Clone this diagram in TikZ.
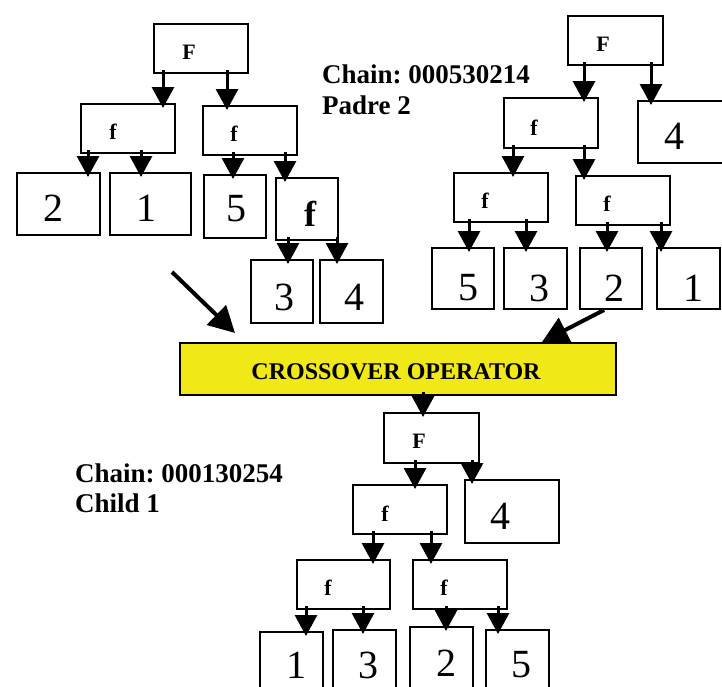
\documentclass[tikz,border=0pt]{standalone}
\usepackage{fontspec}
\setmainfont{Liberation Serif}
\frenchspacing
\usetikzlibrary{arrows.meta}
\definecolor{opyellow}{HTML}{F0E817}
\tikzset{
  box/.style={draw, line width=2pt, inner sep=0pt, anchor=north west},
  fun/.style={font=\bfseries\fontsize{22}{24}\selectfont},
  bigfun/.style={font=\bfseries\fontsize{36}{38}\selectfont},
  digit/.style={font=\fontsize{40}{44}\selectfont},
  note/.style={font=\bfseries\fontsize{27}{30}\selectfont, inner sep=0pt, anchor=base west},
  arr/.style={line width=3pt, -{Triangle[width=22pt,length=21pt]}, shorten >=-5pt},
  darr/.style={line width=4pt, -{Triangle[width=27pt,length=26pt]}},
}
\newcommand\tbox[8]{% name, x, y, w, h, style, dx, dy
  \node[box, minimum width=#4pt, minimum height=#5pt,
        label={[#6, inner sep=0pt, xshift=#7pt, yshift=#8pt]center:\boxtext}] (#1) at (#2,#3) {};}
\begin{document}
\begin{tikzpicture}[x=1pt,y=-1pt]
\useasboundingbox (0,0) rectangle (722,686);
% ---------- left tree ----------
\def\boxtext{F}\tbox{LF}{153}{23}{94}{49}{fun}{-12}{-3.5}
\def\boxtext{f}\tbox{Lfa}{80}{103}{94}{49}{fun}{-15}{-3.5}
\def\boxtext{f}\tbox{Lfb}{202}{105}{94}{49}{fun}{-16}{-3.5}
\def\boxtext{2}\tbox{Ltwo}{16}{172}{83}{62}{digit}{-5.5}{-4}
\def\boxtext{1}\tbox{Lone}{109}{172}{81}{62}{digit}{-4.5}{-4}
\def\boxtext{5}\tbox{Lfive}{203}{174}{62}{63}{digit}{1}{-2.5}
\def\boxtext{f}\tbox{Lfc}{275}{177}{62}{62}{bigfun}{3}{-4.5}
\def\boxtext{3}\tbox{Lthree}{250}{259}{62}{63}{digit}{2}{-6}
\def\boxtext{4}\tbox{Lfour}{319}{259}{63}{63}{digit}{2.5}{-5.5}
% ---------- right tree ----------
\def\boxtext{F}\tbox{RF}{567}{15}{95}{49}{fun}{-12.5}{-3.5}
\def\boxtext{f}\tbox{Rfa}{503}{97}{94}{50}{fun}{-17}{-5}
\def\boxtext{4}\tbox{Rfour}{637}{100}{90}{62}{digit}{-9}{-4}
\def\boxtext{f}\tbox{Rfb}{453}{172}{94}{49}{fun}{-16}{-3.5}
\def\boxtext{f}\tbox{Rfc}{575}{175}{94}{49}{fun}{-16}{-3.5}
\def\boxtext{5}\tbox{Rfive}{431}{247}{62}{61}{digit}{5}{-9.5}
\def\boxtext{3}\tbox{Rthree}{503}{247}{63}{61}{digit}{3.5}{-9.5}
\def\boxtext{2}\tbox{Rtwo}{579}{247}{62}{61}{digit}{3}{-9.5}
\def\boxtext{1}\tbox{Rone}{656}{247}{63}{61}{digit}{4.5}{-9.5}
% ---------- operator ----------
\node[box, fill=opyellow, minimum width=436pt, minimum height=52pt] (X) at (179,342) {};
\node[font=\bfseries\fontsize{24}{26}\selectfont, inner sep=0pt] (Xt) at ([xshift=-2pt,yshift=-2.5pt]X.center) {CROSSOVER OPERATOR};
% ---------- child tree ----------
\def\boxtext{F}\tbox{CF}{383}{412}{95}{50}{fun}{-12.5}{-3}
\def\boxtext{f}\tbox{Cfa}{352}{484}{94}{49}{fun}{-15}{-4.5}
\def\boxtext{4}\tbox{Cfour}{464}{479}{94}{63}{digit}{-12}{-4.5}
\def\boxtext{f}\tbox{Cfb}{296}{559}{93}{49}{fun}{-15.5}{-3.5}
\def\boxtext{f}\tbox{Cfc}{412}{559}{94}{49}{fun}{-16}{-3.5}
\def\boxtext{1}\tbox{Cone}{259}{631}{63}{70}{digit}{4.5}{2}
\def\boxtext{3}\tbox{Cthree}{332}{629}{63}{72}{digit}{3.5}{1}
\def\boxtext{2}\tbox{Ctwo}{409}{626}{63}{75}{digit}{4.5}{1}
\def\boxtext{5}\tbox{Cfive}{485}{629}{63}{72}{digit}{3.5}{1}
% ---------- notes ----------
\node[note] (Pa) at (322,83) {Chain: 000530214};
\node[note] (Pb) at (322,114) {Padre 2};
\node[note] (Ca) at (75,482) {Chain: 000130254};
\node[note] (Cb) at (75,512) {Child 1};
% ---------- arrows ----------
\newcommand\tarr[3]{\draw[arr] ([xshift=#2pt,yshift=4pt]#1.south west) -- ([xshift=#2pt]#1.south west |- #3.north);}
\tarr{LF}{10}{Lfa}
\tarr{LF}{74}{Lfb}
\tarr{Lfa}{8}{Ltwo}
\tarr{Lfa}{61}{Lone}
\tarr{Lfb}{31}{Lfive}
\tarr{Lfb}{83}{Lfc}
\tarr{Lfc}{13}{Lthree}
\tarr{Lfc}{62}{Lfour}
\tarr{RF}{17}{Rfa}
\tarr{RF}{84}{Rfour}
\tarr{Rfa}{10}{Rfb}
\tarr{Rfa}{81}{Rfc}
\tarr{Rfb}{16}{Rfive}
\tarr{Rfb}{73}{Rthree}
\tarr{Rfc}{32}{Rtwo}
\tarr{Rfc}{86}{Rone}
\tarr{X}{244}{CF}
\tarr{CF}{32}{Cfa}
\tarr{CF}{89}{Cfour}
\tarr{Cfa}{21}{Cfb}
\tarr{Cfa}{79}{Cfc}
\tarr{Cfb}{10}{Cone}
\tarr{Cfb}{67}{Cthree}
\tarr{Cfc}{34}{Ctwo}
\tarr{Cfc}{86}{Cfive}
\coordinate (ds) at (172,272);
\draw[darr] (ds) -- ([xshift=56pt,yshift=9pt]X.north west);
\draw[darr] ([xshift=-7pt]Rtwo.south) -- ([xshift=-75pt]X.north east);
\end{tikzpicture}
\end{document}
